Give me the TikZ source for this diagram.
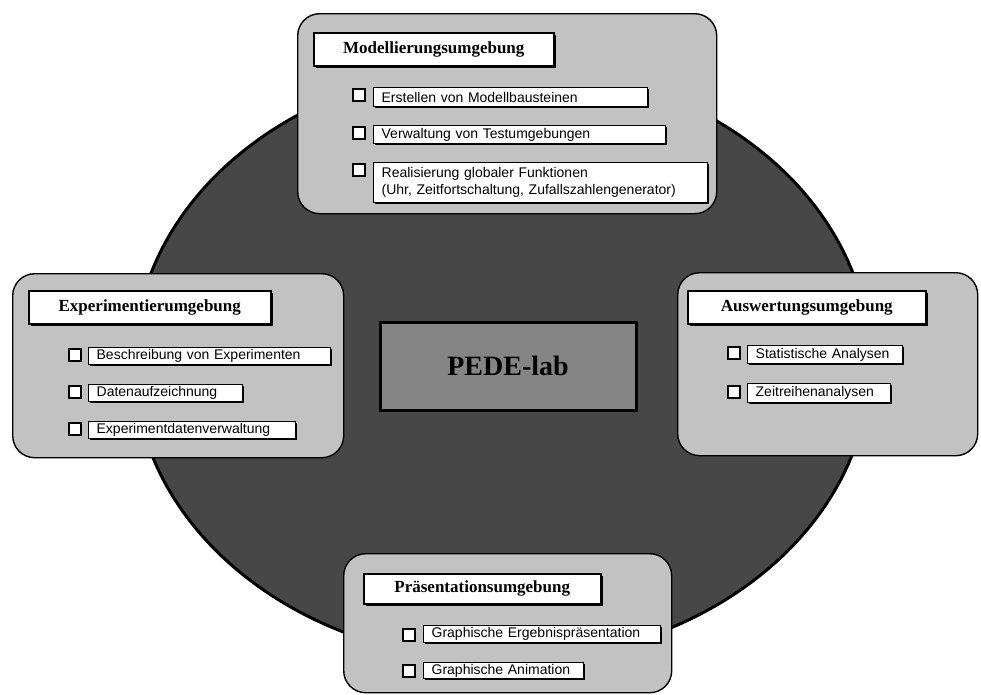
\documentclass[tikz,border=0pt]{standalone}
\usepackage{fontspec}
\setmainfont{Liberation Serif}
\newfontfamily\itemfont{Liberation Sans}
\usetikzlibrary{shapes.geometric,shadows}
\definecolor{panel}{gray}{0.76}
\definecolor{ellip}{gray}{0.28}
\definecolor{core}{gray}{0.52}
\begin{document}
\begin{tikzpicture}[x=1pt,y=-1pt,
  panelbox/.style={draw=black, line width=1.4pt, fill=panel, rounded corners=22pt, anchor=north west, inner sep=0pt},
  titlebox/.style={draw=black, line width=1.5pt, fill=white, inner sep=0pt, anchor=north west,
    font=\bfseries\fontsize{17}{20}\selectfont,
    drop shadow={shadow xshift=2pt, shadow yshift=-2pt, fill=black, opacity=1}},
  itembox/.style={draw=black, line width=1.3pt, fill=white, anchor=north west, inner xsep=8pt, inner ysep=0pt,
    align=left, font=\itemfont\fontsize{14}{17}\selectfont,
    drop shadow={shadow xshift=1pt, shadow yshift=-1pt, fill=black, opacity=1}},
  checkbox/.style={draw=black, line width=2pt, fill=white, minimum size=12pt, inner sep=0pt, anchor=north west}
]
\useasboundingbox (0,0) rectangle (981,694);
\fill[white] (0,0) rectangle (981,694);

% central ellipse
\node[ellipse, draw=black, line width=3pt, fill=ellip, minimum width=736pt, minimum height=596pt, inner sep=0pt] (hub) at (502,363) {};

% centre box
\node[draw=black, line width=3pt, fill=core, minimum width=256pt, minimum height=88pt, inner sep=0pt,
  font=\bfseries\fontsize{28}{30}\selectfont] (core) at (508,366) {PEDE-lab};

% ---------- top panel ----------
\node[panelbox, minimum width=419pt, minimum height=200pt] (pm) at (297,13) {};
\node[titlebox, minimum width=240pt, minimum height=33pt] (tm) at (313,32) {Modellierungsumgebung};
\node[checkbox] (cm1) at (352,88) {};
\node[checkbox] (cm2) at (352,126) {};
\node[checkbox] (cm3) at (352,163) {};
\node[itembox, minimum height=19pt, text width=258pt] (m1) at (373,87) {Erstellen von Modellbausteinen};
\node[itembox, minimum height=18pt, text width=276pt] (m2) at (373,125) {Verwaltung von Testumgebungen};
\node[itembox, minimum height=40pt, text width=318pt] (m3) at (373,162) {Realisierung globaler Funktionen\\(Uhr, Zeitfortschaltung, Zufallszahlengenerator)};

% ---------- left panel ----------
\node[panelbox, minimum width=331pt, minimum height=184pt] (pe) at (12,273) {};
\node[titlebox, minimum width=242pt, minimum height=33pt] (te) at (28,290) {Experimentierumgebung};
\node[checkbox] (ce1) at (68,348) {};
\node[checkbox] (ce2) at (68,385) {};
\node[checkbox] (ce3) at (68,422) {};
\node[itembox, minimum height=17pt, text width=226pt] (e1) at (88,347) {Beschreibung von Experimenten};
\node[itembox, minimum height=17pt, text width=138pt] (e2) at (88,384) {Datenaufzeichnung};
\node[itembox, minimum height=17pt, text width=191pt] (e3) at (88,421) {Experimentdatenverwaltung};

% ---------- right panel ----------
\node[panelbox, minimum width=300pt, minimum height=183pt] (pa) at (677,272) {};
\node[titlebox, minimum width=238pt, minimum height=33pt] (ta) at (687,290) {Auswertungsumgebung};
\node[checkbox] (ca1) at (727,346) {};
\node[checkbox] (ca2) at (727,385) {};
\node[itembox, minimum height=18pt, text width=139pt] (a1) at (747,345) {Statistische Analysen};
\node[itembox, minimum height=19pt, text width=127pt] (a2) at (747,383) {Zeitreihenanalysen};

% ---------- bottom panel ----------
\node[panelbox, minimum width=328pt, minimum height=139pt] (pp) at (343,553) {};
\node[titlebox, minimum width=237pt, minimum height=30pt] (tp) at (363,573) {Präsentationsumgebung};
\node[checkbox] (cp1) at (402,628) {};
\node[checkbox] (cp2) at (402,664) {};
\node[itembox, minimum height=17pt, text width=221pt] (p1) at (423,625) {Graphische Ergebnispräsentation};
\node[itembox, minimum height=16pt, text width=144pt] (p2) at (423,662) {Graphische Animation};
\end{tikzpicture}
\end{document}
